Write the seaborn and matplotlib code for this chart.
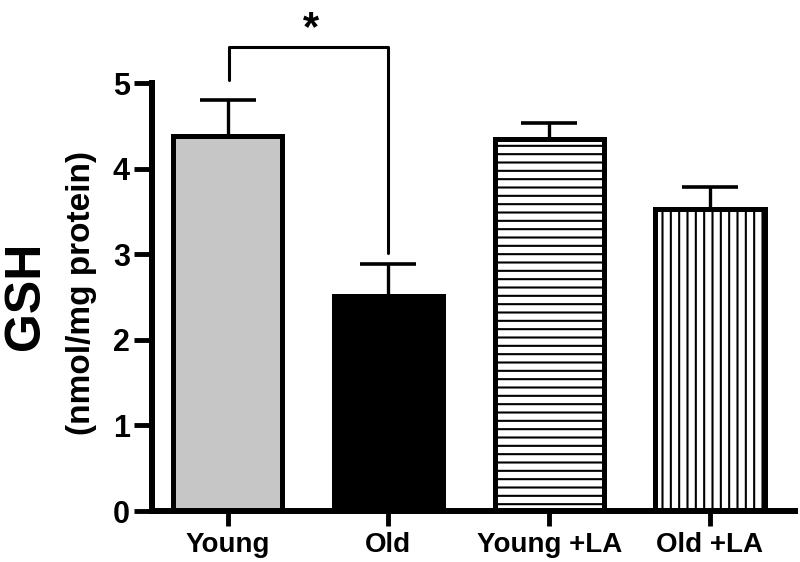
# GSH bar chart, young vs old, with and without LA
import matplotlib
matplotlib.use("Agg")
import matplotlib.pyplot as plt
import seaborn as sns
import pandas as pd

groups = ["Young", "Old", "Young +LA", "Old +LA"]
gsh_mean = [4.38, 2.51, 4.35, 3.53]
gsh_sem = [0.42, 0.38, 0.18, 0.26]
bar_colors = ["#c6c6c6", "#000000", "#ffffff", "#ffffff"]
hatches = ["", "", "--", "||"]

sns.set_style("ticks")
plt.rcParams["font.family"] = ["Liberation Sans", "DejaVu Sans"]
plt.rcParams["font.weight"] = "bold"
plt.rcParams["hatch.linewidth"] = 1.5
for k in ["text.color", "axes.edgecolor", "xtick.color", "ytick.color",
          "axes.labelcolor"]:
    plt.rcParams[k] = "black"

df = pd.DataFrame({"group": groups, "gsh": gsh_mean})

fig = plt.figure(figsize=(8, 5.62), dpi=100)
ax = fig.add_axes([0.19, 0.0907, 0.804, 0.7615])

sns.barplot(data=df, x="group", y="gsh", hue="group", palette=bar_colors,
            legend=False, width=0.68, edgecolor="black", linewidth=3.6,
            errorbar=None, ax=ax)
for p, h in zip(ax.patches, hatches):
    p.set_hatch(h)

ax.errorbar(range(len(groups)), gsh_mean, yerr=[[0] * 4, gsh_sem], fmt="none",
            ecolor="black", elinewidth=2.4, capsize=20, capthick=2.6, zorder=1)

ax.set_ylim(0, 5)
ax.set_xlim(-0.47, 3.53)
ax.set_yticks([0, 1, 2, 3, 4, 5])
sns.despine(ax=ax)
for s in ["left", "bottom"]:
    ax.spines[s].set_linewidth(4.3)
ax.tick_params(axis="y", direction="out", length=13, width=3.5, labelsize=22, pad=3)
ax.tick_params(axis="x", direction="out", length=11, width=3.5, labelsize=20, pad=4)
for lab in ax.get_xticklabels() + ax.get_yticklabels():
    lab.set_fontweight("bold")

ax.set_xlabel("")
ax.set_ylabel("")
fig.text(0.033, 0.473, "GSH", rotation=90, ha="center", va="center",
         fontsize=36, fontweight="bold")
fig.text(0.102, 0.478, "(nmol/mg protein)", rotation=90, ha="center", va="center",
         fontsize=24, fontweight="bold")

# significance bracket
ax.plot([0.01, 0.01, 0.995, 0.995], [5.03, 5.42, 5.42, 3.01], color="black",
        lw=2.2, clip_on=False)
ax.text(0.52, 5.40, "*", ha="center", va="bottom", fontsize=30,
        fontweight="bold")

fig.savefig("out.png", dpi=100)
